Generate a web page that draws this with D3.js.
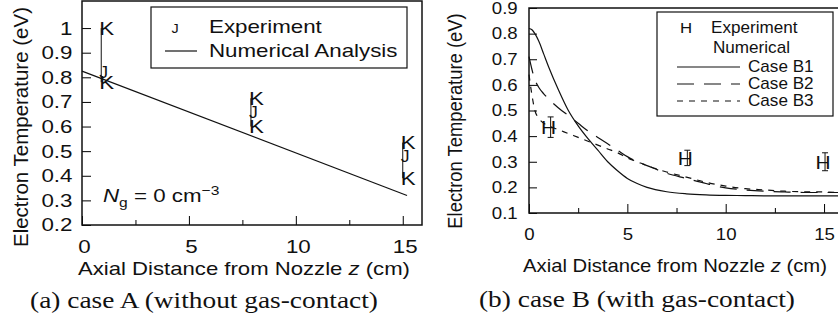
<!DOCTYPE html>
<html>
<head>
<meta charset="utf-8">
<script src="https://cdn.jsdelivr.net/npm/d3@7"></script>
<style>
body { margin: 0; background: #fff; }
svg { display: block; }
text { font-family: "Liberation Sans", Arial, sans-serif; fill: #111; }
text.cap { font-family: "Liberation Serif", "Times New Roman", serif; }
</style>
</head>
<body>
<script>
// (a) case A - without gas contact
const zA = [0.9, 7.9, 15];
const expA = [0.82, 0.66, 0.48];
const hiA = [1.0, 0.715, 0.535];
const loA = [0.78, 0.60, 0.39];
const numZA = [0, 15.2];
const numA = [0.825, 0.32];
const xTicksA = [0, 5, 10, 15];
const xMinorA = [2.5, 7.5, 12.5];
const yTicksA = [0.2, 0.3, 0.4, 0.5, 0.6, 0.7, 0.8, 0.9, 1.0];

// (b) case B - with gas contact
const zB = [1.1, 8.05, 15.05];
const expB = [0.435, 0.315, 0.30];
const hiB = [0.475, 0.345, 0.335];
const loB = [0.395, 0.285, 0.265];
const curveZ = [0, 0.15, 0.3, 0.5, 0.75, 1, 1.5, 2, 2.5, 3, 3.5, 4, 4.5, 5, 5.5, 6, 7, 8, 9, 10, 11, 12, 13, 14, 15, 16];
const caseB1 = [0.82, 0.815, 0.80, 0.77, 0.72, 0.67, 0.58, 0.50, 0.44, 0.39, 0.345, 0.30, 0.265, 0.235, 0.215, 0.20, 0.183, 0.175, 0.171, 0.169, 0.168, 0.167, 0.167, 0.167, 0.167, 0.167];
const caseB2 = [0.71, 0.66, 0.62, 0.59, 0.565, 0.545, 0.51, 0.48, 0.45, 0.42, 0.395, 0.37, 0.345, 0.32, 0.30, 0.285, 0.255, 0.235, 0.215, 0.198, 0.19, 0.185, 0.182, 0.18, 0.18, 0.18];
const caseB3 = [0.64, 0.56, 0.50, 0.47, 0.45, 0.44, 0.425, 0.41, 0.395, 0.38, 0.365, 0.35, 0.335, 0.315, 0.30, 0.285, 0.26, 0.24, 0.22, 0.205, 0.195, 0.19, 0.185, 0.183, 0.182, 0.18];
const xTicksB = [0, 5, 10, 15];
const xMinorB = [2.5, 7.5, 12.5];
const yTicksB = [0.1, 0.2, 0.3, 0.4, 0.5, 0.6, 0.7, 0.8, 0.9];

const caseNames = ["Case B1", "Case B2", "Case B3"];
const caseDash = ["none", "17,10", "6,6"];

const svg = d3.select("body").append("svg")
    .attr("width", 838)
    .attr("height", 323);

// text with a horizontal stretch, the scan is wider than the fonts
function txt(parent, str, x, y, size, sx, anchor) {
    return parent.append("text")
        .attr("transform", "translate(" + x + "," + y + ") scale(" + sx + ",1)")
        .attr("text-anchor", anchor || "start")
        .style("font-size", size + "px")
        .text(str);
}

const fmt = d => String(+d.toFixed(1));

// ---------- panel (a) ----------
const xA = d3.scaleLinear().domain([0, 15.9]).range([82, 422]);
const yA = d3.scaleLinear().domain([0.2, 1.11]).range([225, 1]);
const gA = svg.append("g");

gA.append("g").attr("transform", "translate(0,225)")
    .call(d3.axisBottom(xA).tickValues(xTicksA).tickSize(-9).tickPadding(15).tickFormat(d3.format("d")))
    .call(g => g.select(".domain").remove())
    .call(g => g.selectAll("text").style("font-size", "18.6px").attr("transform", "translate(2,0) scale(1.2,1)"));
gA.append("g").attr("transform", "translate(0,225)")
    .call(d3.axisBottom(xA).tickValues(xMinorA).tickSize(-5).tickFormat(""))
    .call(g => g.select(".domain").remove());
gA.append("g").attr("transform", "translate(82,0)")
    .call(d3.axisLeft(yA).tickValues(yTicksA).tickSize(-9).tickPadding(8).tickFormat(fmt))
    .call(g => g.select(".domain").remove())
    .call(g => g.selectAll("text").style("font-size", "18.6px").attr("transform", "scale(1.2,1)"));

gA.append("rect")
    .attr("x", 82).attr("y", 1)
    .attr("width", 422 - 82).attr("height", 224)
    .style("fill", "none").style("stroke", "#111").style("stroke-width", 1.5);

// numerical analysis
gA.append("path")
    .datum(numZA.map((z, i) => [z, numA[i]]))
    .attr("d", d3.line().x(d => xA(d[0])).y(d => yA(d[1])))
    .style("fill", "none").style("stroke", "#111").style("stroke-width", 1.2);

// experiment: error bars drawn with K caps and J marks
zA.forEach(function(z, i) {
    const x = xA(z);
    gA.append("line")
        .attr("x1", x).attr("x2", x)
        .attr("y1", yA(hiA[i])).attr("y2", yA(loA[i]))
        .style("stroke", "#111").style("stroke-width", 1);
    txt(gA, "K", x - 2, yA(hiA[i]) + 6.6, 18.6, 1.2);
    txt(gA, "K", x - 2, yA(loA[i]) + 6.6, 18.6, 1.2);
    txt(gA, "J", x + 2.5, yA(expA[i]) + 6, 16, 1.1, "middle");
});

// legend (a)
gA.append("rect")
    .attr("x", 151).attr("y", 7).attr("width", 256).attr("height", 61)
    .style("fill", "#fff").style("stroke", "#111").style("stroke-width", 1.2);
txt(gA, "J", 175, 33, 12, 1.2, "middle");
txt(gA, "Experiment", 209, 33, 18.6, 1.2);
gA.append("line")
    .attr("x1", 165).attr("x2", 197).attr("y1", 51).attr("y2", 51)
    .style("stroke", "#111").style("stroke-width", 1.2);
txt(gA, "Numerical Analysis", 209, 57, 18.6, 1.2);

// N_g = 0 cm^-3
const ng = gA.append("text")
    .attr("transform", "translate(103,202) scale(1.2,1)")
    .style("font-size", "18.6px");
ng.append("tspan").style("font-style", "italic").text("N");
ng.append("tspan").attr("dy", 5).style("font-size", "13px").text("g");
ng.append("tspan").attr("dy", -5).text(" = 0 cm");
ng.append("tspan").attr("dy", -7).style("font-size", "13px").text("\u2212" + "3");

// axis titles (a)
const tA = gA.append("text")
    .attr("transform", "translate(244,275) scale(1.19,1)")
    .attr("text-anchor", "middle")
    .style("font-size", "18.6px");
tA.append("tspan").text("Axial Distance from Nozzle ");
tA.append("tspan").style("font-style", "italic").text("z");
tA.append("tspan").text(" (cm)");

gA.append("text")
    .attr("transform", "translate(28,127) rotate(-90)")
    .attr("text-anchor", "middle")
    .style("font-size", "20.5px")
    .text("Electron Temperature (eV)");

txt(gA, "(a) case A (without gas-contact)", 204, 308, 23, 1.19, "middle").attr("class", "cap");

// ---------- panel (b) ----------
const xB = d3.scaleLinear().domain([0, 16]).range([529, 529 + 16 * 19.67]);
const yB = d3.scaleLinear().domain([0.1, 0.9]).range([213, 8]);
const gB = svg.append("g");

gB.append("g").attr("transform", "translate(0,213)")
    .call(d3.axisBottom(xB).tickValues(xTicksB).tickSize(-9).tickPadding(15).tickFormat(d3.format("d")))
    .call(g => g.select(".domain").remove())
    .call(g => g.selectAll("text").style("font-size", "16.5px").attr("transform", "scale(1.13,1)"));
gB.append("g").attr("transform", "translate(0,213)")
    .call(d3.axisBottom(xB).tickValues(xMinorB).tickSize(-5).tickFormat(""))
    .call(g => g.select(".domain").remove());
gB.append("g").attr("transform", "translate(529,0)")
    .call(d3.axisLeft(yB).tickValues(yTicksB).tickSize(-8).tickPadding(10).tickFormat(fmt))
    .call(g => g.select(".domain").remove())
    .call(g => g.selectAll("text").style("font-size", "16.5px").attr("transform", "scale(1.13,1)"));

gB.append("path")
    .attr("d", "M" + xB(16) + ",8H529V213H" + xB(16))
    .style("fill", "none").style("stroke", "#111").style("stroke-width", 1.5);

const lineB = d3.line()
    .x(d => xB(d[0]))
    .y(d => yB(d[1]))
    .curve(d3.curveMonotoneX);

[caseB1, caseB2, caseB3].forEach(function(vals, i) {
    gB.append("path")
        .datum(curveZ.map((z, j) => [z, vals[j]]))
        .attr("d", lineB)
        .style("fill", "none")
        .style("stroke", "#111")
        .style("stroke-width", 1.2)
        .style("stroke-dasharray", caseDash[i]);
});

zB.forEach(function(z, i) {
    const x = xB(z), y1 = yB(hiB[i]), y2 = yB(loB[i]);
    gB.append("path")
        .attr("d", "M" + (x - 3) + "," + y1 + "H" + (x + 3) + "M" + x + "," + y1 + "V" + y2 + "M" + (x - 3) + "," + y2 + "H" + (x + 3))
        .style("fill", "none").style("stroke", "#111").style("stroke-width", 1);
    txt(gB, "H", x - 2, yB(expB[i]) + 6.8, 19, 1.1, "middle");
});

// legend (b)
gB.append("rect")
    .attr("x", 657).attr("y", 12).attr("width", 176).attr("height", 104)
    .style("fill", "#fff").style("stroke", "#111").style("stroke-width", 1.2);
txt(gB, "H", 686, 33, 14, 1.2, "middle");
txt(gB, "Experiment", 711, 33, 16, 1.07);
txt(gB, "Numerical", 713, 53, 16, 1.07);
caseNames.forEach(function(name, i) {
    const y = 67 + i * 17;
    gB.append("line")
        .attr("x1", 677).attr("x2", 740).attr("y1", y).attr("y2", y)
        .style("stroke", "#111").style("stroke-width", 1.2)
        .style("stroke-dasharray", caseDash[i]);
    txt(gB, name, 748, y + 5, 16, 1.07);
});

const tB = gB.append("text")
    .attr("transform", "translate(675,272) scale(1.09,1)")
    .attr("text-anchor", "middle")
    .style("font-size", "18.6px");
tB.append("tspan").text("Axial Distance from Nozzle ");
tB.append("tspan").style("font-style", "italic").text("z");
tB.append("tspan").text(" (cm)");

gB.append("text")
    .attr("transform", "translate(462,121) rotate(-90) scale(0.92,1)")
    .attr("text-anchor", "middle")
    .style("font-size", "20px")
    .text("Electron Temperature (eV)");

txt(gB, "(b) case B (with gas-contact)", 637, 307, 23, 1.19, "middle").attr("class", "cap");
</script>
</body>
</html>
